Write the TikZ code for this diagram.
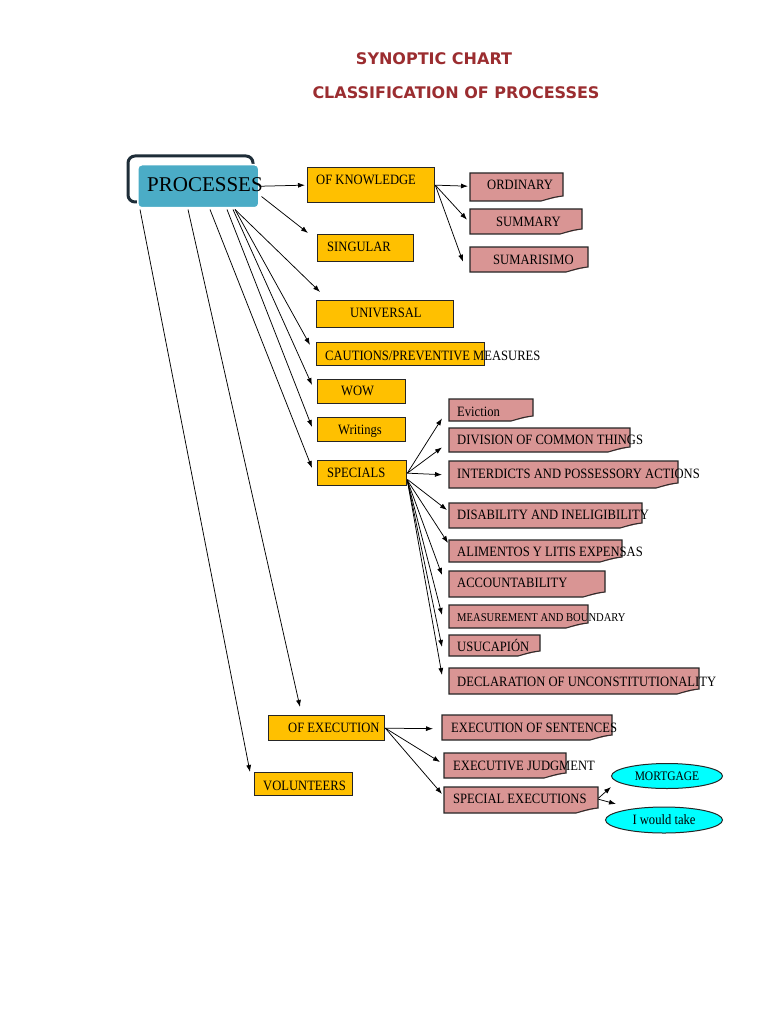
\documentclass[tikz,border=0pt]{standalone}
\usepackage{graphicx}
\usepackage{fontspec}
\setmainfont{Liberation Serif}
\newfontfamily\titlefont{DejaVu Sans}
\usetikzlibrary{arrows.meta,shapes.geometric,calc}
\definecolor{ygold}{HTML}{FFC000}
\definecolor{rose}{HTML}{D99594}
\definecolor{foldc}{HTML}{8E5E5D}
\definecolor{teal1}{HTML}{4BACC6}
\definecolor{framec}{HTML}{1E2D38}
\definecolor{titlered}{HTML}{9B2D30}
\definecolor{edgec}{HTML}{262626}
\definecolor{cyanc}{HTML}{00FFFF}
\newcommand\St[1]{\scalebox{1}[1.13]{#1}}
\tikzset{
  arr/.style={-{Latex[length=7pt,width=5pt]}, line width=0.75pt, black},
  ybx/.style={draw=edgec, fill=ygold, line width=1.3pt, inner sep=0pt, anchor=north west},
  lbl/.style={anchor=base west, inner sep=0pt, font=\fontsize{12.6}{14}\selectfont},
  ell/.style={ellipse, draw=edgec, fill=cyanc, line width=1pt, inner sep=0pt},
  ttl/.style={text=titlered, font=\titlefont\bfseries\fontsize{16}{18}\selectfont, inner sep=0pt}
}
\newcommand\YB[5]{\node[ybx, minimum width={(#4-#2)*1pt}, minimum height={(#5-#3)*1pt}] (#1) at (#2,#3) {};}
\newcommand\PB[5]{%
  \fill[rose] (#2,#3) -- (#4,#3) -- (#4,#5-5) -- (#4-22,#5) -- (#2,#5) -- cycle;
  \draw[edgec, line width=1.1pt] (#2,#3) -- (#4,#3) -- (#4,#5-5) .. controls (#4-8,#5-4) .. (#4-22,#5) -- (#2,#5) -- cycle;
  \fill[foldc] (#4,#5-5) -- (#4-22,#5) -- (#4-9,#5-3) -- cycle;
  \node[inner sep=0pt, minimum width={(#4-#2)*1pt}, minimum height={(#5-#3)*1pt}, anchor=north west] (#1) at (#2,#3) {};}
\begin{document}
\begin{tikzpicture}[x=1pt,y=-1pt]
\useasboundingbox[fill=white] (0,0) rectangle (768,1024);

% titles
\node[ttl] (title1) at (434,59) {SYNOPTIC CHART};
\node[ttl] (title2) at (456,93) {CLASSIFICATION OF PROCESSES};

% PROCESSES
\draw[framec, line width=3pt, rounded corners=7pt] (128,156) rectangle (253,202);
\node[fill=teal1, draw=white, line width=1.5pt, rounded corners=4pt, minimum width=121pt, minimum height=43pt, anchor=north west, inner sep=0pt] (proc) at (137,164) {};
\node[anchor=base west, inner sep=0pt, font=\fontsize{21}{24}\selectfont] (tproc) at (147,192) {PROCESSES};

% yellow boxes
\YB{know}{307}{167}{434}{202}
\YB{sing}{317}{234}{413}{261}
\YB{univ}{316}{300}{453}{327}
\YB{caut}{316}{342}{484}{365}
\YB{wow}{317}{379}{405}{403}
\YB{writ}{317}{417}{405}{441}
\YB{spec}{317}{460}{406}{485}
\YB{exe}{268}{715}{384}{740}
\YB{vol}{254}{772}{352}{795}

% pink boxes
\PB{ord}{470}{173}{563}{201}
\PB{summ}{470}{209}{582}{234}
\PB{sumar}{470}{247}{588}{272}
\PB{evic}{449}{399}{533}{421}
\PB{divi}{449}{428}{630}{452}
\PB{inter}{449}{461}{678}{488}
\PB{disab}{449}{503}{642}{528}
\PB{alim}{449}{540}{622}{562}
\PB{acct}{449}{571}{605}{597}
\PB{meas}{449}{605}{588}{628}
\PB{usu}{449}{635}{540}{656}
\PB{decl}{449}{668}{699}{694}
\PB{exsent}{442}{715}{612}{740}
\PB{exjud}{444}{753}{566}{778}
\PB{spex}{444}{787}{598}{813}

% ellipses
\node[ell, minimum width=111pt, minimum height=25pt, font=\fontsize{11.5}{13}\selectfont] (mort) at (667,776) {\St{MORTGAGE}};
\node[ell, minimum width=117pt, minimum height=26pt, font=\fontsize{12.6}{14}\selectfont] (take) at (664,820) {\St{I would take}};

% labels
\node[lbl] (lknow) at (316,184.5) {\St{OF KNOWLEDGE}};
\node[lbl] (lsing) at (327,251.5) {\St{SINGULAR}};
\node[lbl] (luniv) at (350,317.5) {\St{UNIVERSAL}};
\node[lbl] (lcaut) at (325,360.5) {\St{CAUTIONS/PREVENTIVE MEASURES}};
\node[lbl] (lwow) at (341,395.5) {\St{WOW}};
\node[lbl] (lwrit) at (338,434.5) {\St{Writings}};
\node[lbl] (lspec) at (327,477.5) {\St{SPECIALS}};
\node[lbl] (lexe) at (288,732.5) {\St{OF EXECUTION}};
\node[lbl] (lvol) at (263,790.5) {\St{VOLUNTEERS}};
\node[lbl] (lord) at (487,189.5) {\St{ORDINARY}};
\node[lbl] (lsumm) at (496,226.5) {\St{SUMMARY}};
\node[lbl] (lsumar) at (493,264.5) {\St{SUMARISIMO}};
\node[lbl] (levic) at (457,416.5) {\St{Eviction}};
\node[lbl] (ldivi) at (457,444.5) {\St{DIVISION OF COMMON THINGS}};
\node[lbl] (linter) at (457,478.5) {\St{INTERDICTS AND POSSESSORY ACTIONS}};
\node[lbl] (ldisab) at (457,519.5) {\St{DISABILITY AND INELIGIBILITY}};
\node[lbl] (lalim) at (457,556.5) {\St{ALIMENTOS Y LITIS EXPENSAS}};
\node[lbl] (lacct) at (457,587.5) {\St{ACCOUNTABILITY}};
\node[lbl, font=\fontsize{10.6}{12}\selectfont] (lmeas) at (457,621) {\St{MEASUREMENT AND BOUNDARY}};
\node[lbl] (lusu) at (457,651.5) {\St{USUCAPIÓN}};
\node[lbl] (ldecl) at (457,686.5) {\St{DECLARATION OF UNCONSTITUTIONALITY}};
\node[lbl] (lexsent) at (451,732.5) {\St{EXECUTION OF SENTENCES}};
\node[lbl] (lexjud) at (453,770.5) {\St{EXECUTIVE JUDGMENT}};
\node[lbl] (lspex) at (453,803.5) {\St{SPECIAL EXECUTIONS}};

% connectors from PROCESSES
\draw[arr] (proc.east) -- ([shift={(-2,0)}]know.west);
\draw[arr] ([shift={(2,-12)}]proc.south east) -- ([shift={(-9,-1)}]sing.north west);
\draw[arr] ([shift={(98,1)}]proc.south west) -- ([shift={(4,-8)}]univ.north west);
\draw[arr] ([shift={(98,1)}]proc.south west) -- ([shift={(-6,3)}]caut.north west);
\draw[arr] ([shift={(96,1)}]proc.south west) -- ([shift={(-5,6)}]wow.north west);
\draw[arr] ([shift={(90,1)}]proc.south west) -- ([shift={(-5,10)}]writ.north west);
\draw[arr] ([shift={(73,1)}]proc.south west) -- ([shift={(-5,8)}]spec.north west);
\draw[arr] ([shift={(51,1)}]proc.south west) -- ([shift={(32,-8)}]exe.north west);
\draw[arr] ([shift={(3,1)}]proc.south west) -- ([shift={(-4,0)}]vol.north west);

% OF KNOWLEDGE fan
\draw[arr] (know.east) -- ([shift={(-2,-1)}]ord.west);
\draw[arr] (know.east) -- ([shift={(-3,-2)}]summ.west);
\draw[arr] (know.east) -- ([shift={(-7,2)}]sumar.west);

% SPECIALS fan
\draw[arr] (spec.east) -- ([shift={(-7,-3)}]evic.south west);
\draw[arr] (spec.east) -- ([shift={(-7,-5)}]divi.south west);
\draw[arr] (spec.east) -- ([shift={(-7,0)}]inter.west);
\draw[arr] ([shift={(0,-7)}]spec.south east) -- ([shift={(-2,7)}]disab.north west);
\draw[arr] ([shift={(0,-6)}]spec.south east) -- ([shift={(-1,3)}]alim.north west);
\draw[arr] ([shift={(0,-6)}]spec.south east) -- ([shift={(-7,4)}]acct.north west);
\draw[arr] ([shift={(0,-6)}]spec.south east) -- ([shift={(-7,10)}]meas.north west);
\draw[arr] ([shift={(0,-6)}]spec.south east) -- ([shift={(-7,12)}]usu.north west);
\draw[arr] ([shift={(0,-6)}]spec.south east) -- ([shift={(-7,7)}]decl.north west);

% OF EXECUTION fan
\draw[arr] (exe.east) -- ([shift={(-9,1)}]exsent.west);
\draw[arr] (exe.east) -- ([shift={(-4,9)}]exjud.north west);
\draw[arr] (exe.east) -- ([shift={(-2,7)}]spex.north west);

% SPECIAL EXECUTIONS to ellipses
\draw[arr] ([shift={(0,-2)}]spex.east) -- ([shift={(0,11)}]mort.west);
\draw[arr] ([shift={(0,-1)}]spex.east) -- ([shift={(11,-16)}]take.west);
\end{tikzpicture}
\end{document}
